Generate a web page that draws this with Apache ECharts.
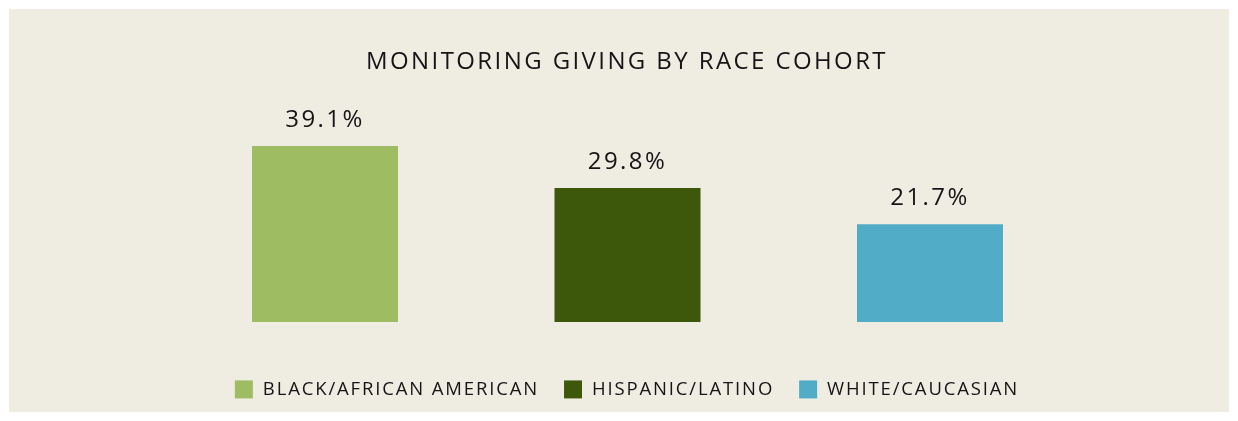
<!DOCTYPE html>
<html>
<head>
<meta charset="utf-8">
<script src="https://cdn.jsdelivr.net/npm/echarts@6/dist/echarts.min.js"></script>
<style>
  html, body { margin: 0; padding: 0; background: #ffffff; width: 1238px; height: 421px; overflow: hidden; }
  #bg { position: absolute; left: 9px; top: 9px; width: 1220px; height: 403px; background: #efece2; }
  #chart { position: absolute; left: 17px; top: 0px; width: 1220px; height: 421px; }
</style>
</head>
<body>
<div id="bg"></div>
<div id="chart"></div>
<script>
// Letter spacing (~0.1em) applied to all canvas text, as in the reference typography
(function () {
  const proto = CanvasRenderingContext2D.prototype;
  const origFill = proto.fillText, origMeasure = proto.measureText;
  function applySpacing(ctx) {
    const m = /(\d+(?:\.\d+)?)px/.exec(ctx.font);
    const size = m ? parseFloat(m[1]) : 12;
    ctx.letterSpacing = (size * 0.1).toFixed(2) + 'px';
  }
  proto.fillText = function () { applySpacing(this); return origFill.apply(this, arguments); };
  proto.measureText = function () { applySpacing(this); return origMeasure.apply(this, arguments); };
})();

const titleText = 'MONITORING GIVING BY RACE COHORT';
const categories = ['BLACK/AFRICAN AMERICAN', 'HISPANIC/LATINO', 'WHITE/CAUCASIAN'];
const values = [39.1, 29.8, 21.7];
const colors = ['#9ebc61', '#3d580b', '#51acc8'];

const FONT = '"Open Sans", "Noto Sans", sans-serif';

const series = categories.map((name, i) => ({
  name: name,
  type: 'bar',
  stack: 'all',
  barWidth: 146,
  itemStyle: { color: colors[i] },
  label: {
    show: true,
    position: 'top',
    distance: 13,
    formatter: (p) => p.value.toFixed(1) + '%',
    color: '#151515',
    fontFamily: FONT,
    fontSize: 24
  },
  data: categories.map((c, j) => (j === i ? values[i] : null))
}));

const chart = echarts.init(document.getElementById('chart'), null, { renderer: 'canvas' });
chart.setOption({
  backgroundColor: 'transparent',
  animation: false,
  title: {
    text: titleText,
    left: 'center',
    top: 49,
    padding: 0,
    textStyle: { fontFamily: FONT, fontSize: 24, fontWeight: 'normal', color: '#151515' }
  },
  legend: {
    data: categories,
    left: 'center',
    top: 379,
    padding: 0,
    itemWidth: 18,
    itemHeight: 18,
    itemGap: 25,
    icon: 'rect',
    textStyle: { fontFamily: FONT, fontSize: 18.5, color: '#151515', padding: [0, 0, 0, 5] }
  },
  grid: { left: 156.75, right: 155.75, top: 97, bottom: 99, containLabel: false },
  xAxis: {
    type: 'category',
    data: categories,
    axisLine: { show: false },
    axisTick: { show: false },
    axisLabel: { show: false },
    splitLine: { show: false }
  },
  yAxis: {
    type: 'value',
    min: 0,
    max: 50,
    show: false,
    splitLine: { show: false }
  },
  series: series
});
</script>
</body>
</html>
